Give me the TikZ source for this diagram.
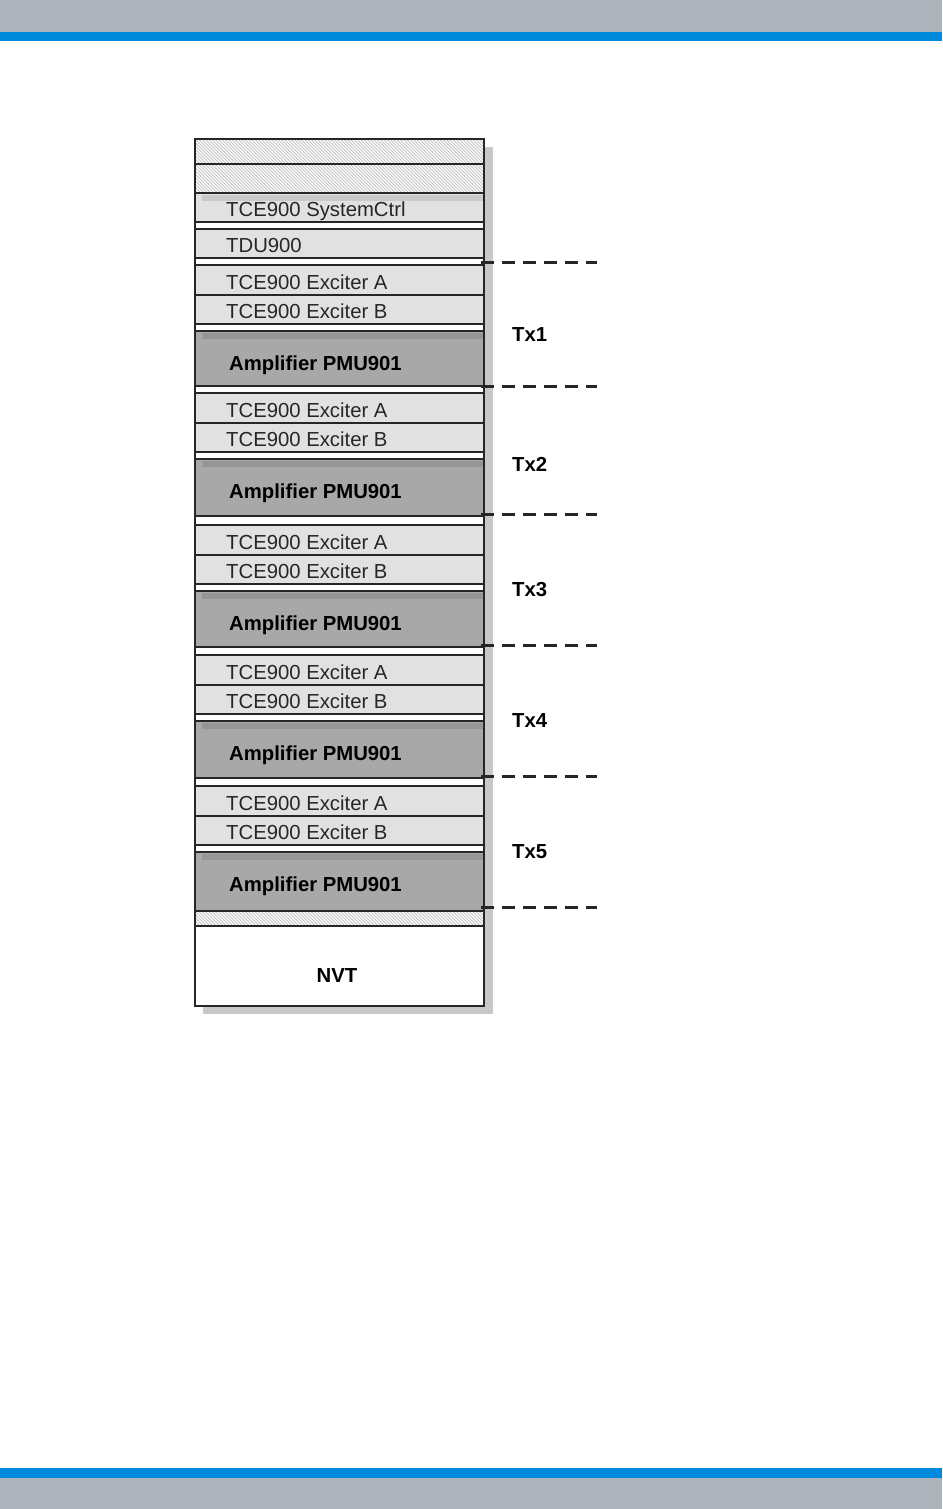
\documentclass[tikz,border=0pt]{standalone}
\usepackage{fontspec}
\setmainfont{Liberation Sans}

\definecolor{barblue}{RGB}{0,138,219}
\definecolor{bargray}{RGB}{174,180,187}
\definecolor{modlight}{RGB}{225,225,225}
\definecolor{moddark}{RGB}{168,168,168}
\definecolor{shadowgray}{RGB}{200,200,200}

\tikzset{
  module/.style={draw=black!85, line width=2.3pt, fill=modlight},
  ampbox/.style={module, fill=moddark},
  gapbox/.style={module, fill=white},
  rackline/.style={draw=black!85, line width=2.3pt},
  hatchline/.style={gray!45, line width=0.9pt},
  topshade/.style={fill=black, opacity=0.1},
  modtext/.style={anchor=base west, inner sep=0pt, text=black!85,
    font=\fontsize{20.3}{24}\selectfont},
  amptext/.style={modtext, text=black, font=\fontsize{20.3}{24}\selectfont\bfseries},
  sepline/.style={line width=3pt, black!85, dash pattern=on 13pt off 8pt},
}

\begin{document}
\begin{tikzpicture}[x=1pt, y=-1pt]
  \useasboundingbox (0,0) rectangle (942,1509);
  % page bars
  \fill[bargray] (0,0) rectangle (942,32);
  \fill[barblue] (0,32) rectangle (942,41);
  \fill[barblue] (0,1468) rectangle (942,1478);
  \fill[bargray] (0,1478) rectangle (942,1509);

  % shadow of the rack
  \fill[shadowgray] (203,147) rectangle (493,1014);

  % blank panels
  \foreach \a/\b in {139/164, 164/193, 911/926}{
    \fill[white] (195,\a) rectangle (484,\b);
    \begin{scope}
      \clip (195,\a) rectangle (484,\b);
      \foreach \k in {160,163.3,...,490}
        \draw[hatchline] (\k,\a-2) -- ++(36,36);
    \end{scope}
    \draw[rackline] (195,\a) rectangle (484,\b);
  }

  % top of the rack
  \draw[module] (195,193) rectangle (484,222);
  \draw[gapbox] (195,222) rectangle (484,229);
  \draw[module] (195,229) rectangle (484,258);
  \fill[topshade] (202,194.5) rectangle (483,201);
  \node[modtext] (ctrl) at (226,216) {TCE900 SystemCtrl};
  \node[modtext] (tdu) at (226,252) {TDU900};

  % one transmitter per pass
  \foreach \n/\p/\t/\b in {1/258/265/386, 2/386/393/516, 3/516/525/647, 4/647/655/778, 5/778/786/911}{
    \draw[gapbox] (195,\p) rectangle (484,\t);
    \draw[module] (195,\t) rectangle (484,\t+30);
    \draw[module] (195,\t+30) rectangle (484,\t+59);
    \draw[gapbox] (195,\t+59) rectangle (484,\t+66);
    \draw[ampbox] (195,\t+66) rectangle (484,\b);
    \fill[topshade] (202,\t+67.5) rectangle (483,\t+74);
    \node[modtext] (exa\n) at (226,\t+24) {TCE900 Exciter A};
    \node[modtext] (exb\n) at (226,\t+53) {TCE900 Exciter B};
    \node[amptext] (amp\n) at (229,\t+105) {Amplifier PMU901};
  }

  % bottom of the rack
  \draw[gapbox] (195,926) rectangle (484,1006);
  \node[amptext, anchor=base] (nvt) at (337,982) {NVT};

  % transmitter borders
  \foreach \y [count=\i] in {262,386,514,645,776,907}
    \draw[sepline] (481,\y) coordinate (sep\i) -- ++(116,0) coordinate (sepend\i);
  \foreach \n/\y in {1/341, 2/471, 3/596, 4/727, 5/858}
    \node[amptext] (tx\n) at (512,\y) {Tx\n};
\end{tikzpicture}
\end{document}
